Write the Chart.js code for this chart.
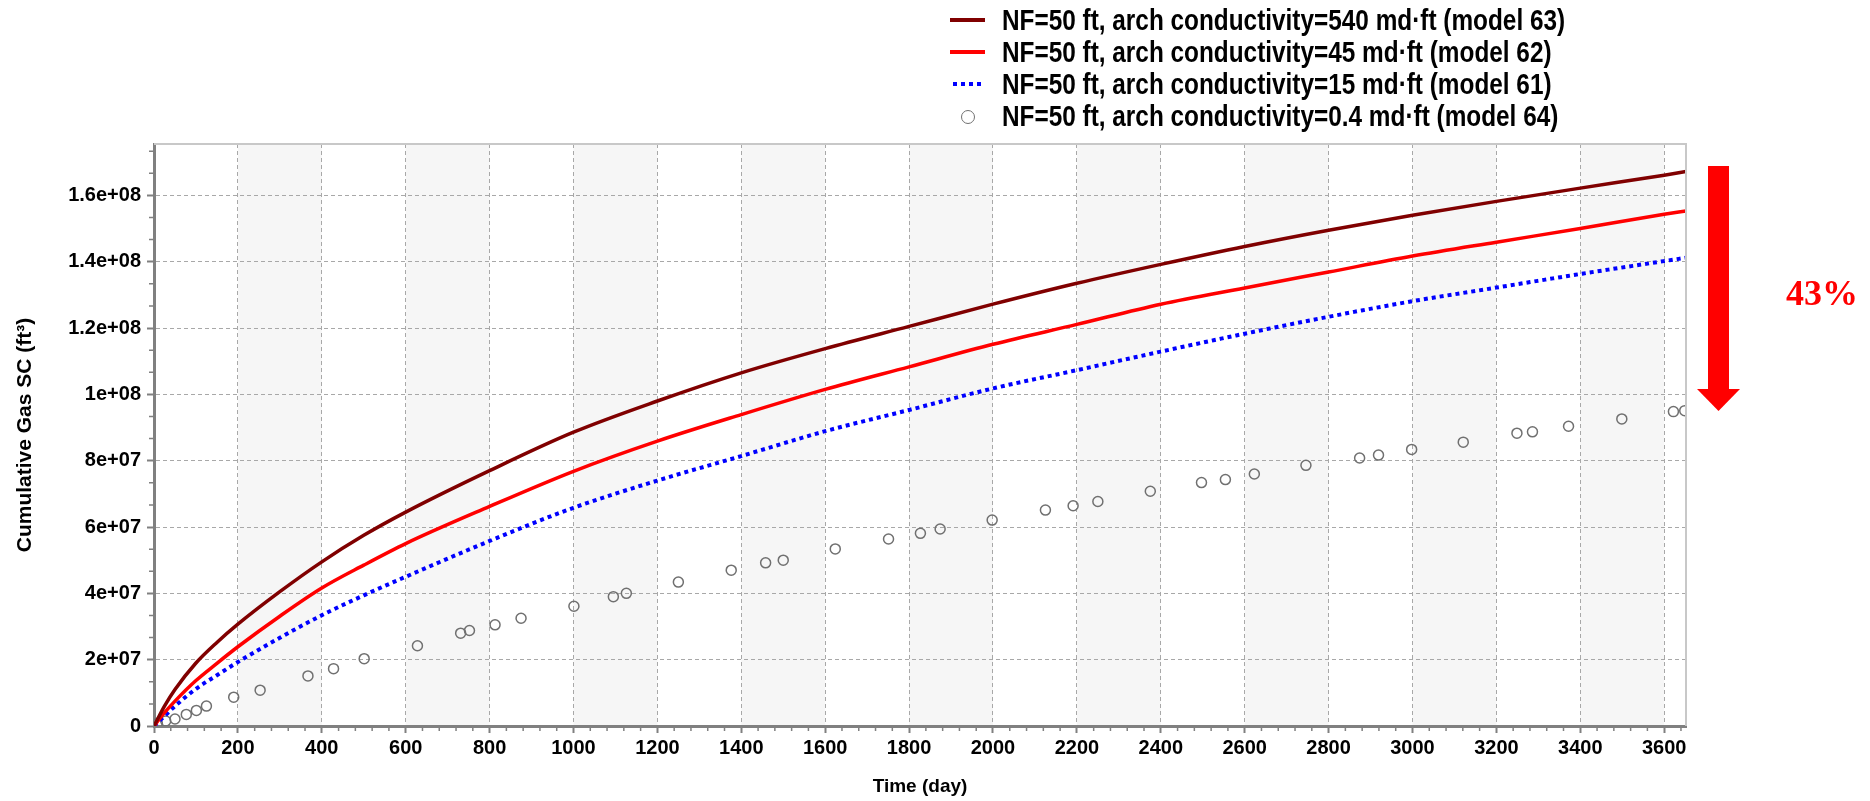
<!DOCTYPE html>
<html>
<head>
<meta charset="utf-8">
<script src="https://cdn.jsdelivr.net/npm/chart.js@4.4.1/dist/chart.umd.min.js"></script>
<style>
  html, body { margin: 0; padding: 0; background: #fff; }
  #wrap { position: relative; width: 1870px; height: 801px; }
  #legend { position: absolute; left: 950px; top: 4px; font: bold 29px "Liberation Sans", Arial, sans-serif; color: #000; }
  .row { display: flex; align-items: center; height: 32.2px; white-space: nowrap; }
  .sw { width: 35px; height: 16px; position: relative; margin-right: 17px; flex: none; }
  .sw i { position: absolute; display: block; }
  .lt { display: inline-block; transform: scaleX(0.84); transform-origin: 0 50%; }
  #pct { position: absolute; left: 1786px; top: 272px; font: bold 36px "Liberation Serif", "Times New Roman", serif; color: #ff0000; }
</style>
</head>
<body>
<div id="wrap">
  <canvas id="chart" width="1870" height="801"></canvas>
  <div id="legend"></div>
  <div id="pct">43%</div>
</div>
<script>
// sample days for the simulated curves
const days = [0, 25, 50, 100, 150, 200, 300, 400, 500, 600, 800, 1000, 1200, 1400, 1600,
  1800, 2000, 2200, 2400, 2600, 2800, 3000, 3200, 3400, 3600, 3652];
const model63 = [0, 0.6e7, 1.1e7, 1.9e7, 2.52e7, 3.07e7, 4.05e7, 4.95e7, 5.75e7, 6.45e7, 7.7e7,
  8.86e7, 9.8e7, 1.065e8, 1.138e8, 1.205e8, 1.272e8, 1.335e8, 1.392e8, 1.446e8, 1.495e8,
  1.54e8, 1.582e8, 1.622e8, 1.661e8, 1.672e8];
const model62 = [0, 0.4e7, 0.75e7, 1.37e7, 1.89e7, 2.39e7, 3.31e7, 4.16e7, 4.85e7, 5.5e7, 6.62e7,
  7.68e7, 8.59e7, 9.39e7, 1.015e8, 1.083e8, 1.151e8, 1.211e8, 1.272e8, 1.321e8, 1.369e8,
  1.417e8, 1.459e8, 1.5e8, 1.543e8, 1.553e8];
const model61 = [0, 0.3e7, 0.6e7, 1.12e7, 1.53e7, 1.93e7, 2.66e7, 3.34e7, 3.94e7, 4.5e7, 5.58e7,
  6.58e7, 7.4e7, 8.14e7, 8.89e7, 9.53e7, 1.018e8, 1.073e8, 1.129e8, 1.183e8, 1.234e8,
  1.281e8, 1.322e8, 1.363e8, 1.402e8, 1.412e8];

// model 64 is shown as markers at its report times
const days64 = [8, 28, 50, 77, 101, 125, 190, 253, 367, 428, 501, 628, 731, 752, 813, 875, 1001,
  1095, 1126, 1250, 1376, 1458, 1500, 1624, 1751, 1827, 1874, 1998, 2125, 2191, 2250, 2375,
  2497, 2554, 2623, 2746, 2874, 2919, 2998, 3121, 3249, 3286, 3372, 3499, 3622, 3649];
const model64 = [0.8e6, 1.5e6, 2.1e6, 3.5e6, 4.7e6, 6.0e6, 8.7e6, 1.08e7, 1.51e7, 1.73e7, 2.03e7,
  2.42e7, 2.8e7, 2.88e7, 3.05e7, 3.25e7, 3.61e7, 3.9e7, 4.0e7, 4.34e7, 4.7e7, 4.92e7, 5.0e7,
  5.34e7, 5.64e7, 5.81e7, 5.94e7, 6.21e7, 6.51e7, 6.64e7, 6.77e7, 7.08e7, 7.34e7, 7.43e7,
  7.6e7, 7.86e7, 8.08e7, 8.17e7, 8.34e7, 8.56e7, 8.83e7, 8.87e7, 9.04e7, 9.26e7, 9.48e7, 9.51e7];

const xTicks = [0, 200, 400, 600, 800, 1000, 1200, 1400, 1600, 1800, 2000, 2200, 2400, 2600,
  2800, 3000, 3200, 3400, 3600];
const yTicks = [0, 2e7, 4e7, 6e7, 8e7, 1e8, 1.2e8, 1.4e8, 1.6e8];
const yTickLabels = ['0', '2e+07', '4e+07', '6e+07', '8e+07', '1e+08', '1.2e+08', '1.4e+08', '1.6e+08'];

const xMax = 3652;
const yMax = 1.755e8;

const pts = (xs, ys) => xs.map((x, i) => ({ x: x, y: ys[i] }));
const tickFont = { family: '"Liberation Sans", Arial, sans-serif', size: 20, weight: 'bold' };
const xTitleFont = { family: '"Liberation Sans", Arial, sans-serif', size: 19, weight: 'bold' };
const yTitleFont = { family: '"Liberation Sans", Arial, sans-serif', size: 21, weight: 'bold' };

// shaded bands every other 200-day column
const bands = {
  id: 'bands',
  beforeDraw(chart) {
    const { ctx, chartArea: a, scales: { x } } = chart;
    ctx.save();
    ctx.fillStyle = '#f6f6f6';
    for (let d = 200; d < x.max; d += 400) {
      const l = x.getPixelForValue(d);
      const r = x.getPixelForValue(Math.min(d + 200, x.max));
      ctx.fillRect(l, a.top, r - l, a.bottom - a.top);
    }
    ctx.restore();
  }
};

// minor ticks, frame and the red arrow
const extras = {
  id: 'extras',
  afterDraw(chart) {
    const { ctx, chartArea: a, scales: { x, y } } = chart;
    ctx.save();
    ctx.strokeStyle = '#c8c8c8';
    ctx.lineWidth = 2;
    ctx.beginPath();
    ctx.moveTo(a.left, a.top);
    ctx.lineTo(a.right, a.top);
    ctx.lineTo(a.right, a.bottom);
    ctx.stroke();

    ctx.strokeStyle = '#808080';
    ctx.lineWidth = 1.5;
    ctx.beginPath();
    for (let k = 1; k * 40 < x.max; k++) {
      if (k % 5 === 0) continue;
      const px = x.getPixelForValue(k * 40);
      ctx.moveTo(px, a.bottom + 1);
      ctx.lineTo(px, a.bottom + 5);
    }
    for (let k = 1; k * 2e7 / 3 < y.max; k++) {
      if (k % 3 === 0) continue;
      const py = y.getPixelForValue(k * 2e7 / 3);
      ctx.moveTo(a.left - 5, py);
      ctx.lineTo(a.left - 1, py);
    }
    ctx.stroke();

    ctx.fillStyle = '#ff0000';
    ctx.fillRect(1708, 166, 21, 224);
    ctx.beginPath();
    ctx.moveTo(1697, 389);
    ctx.lineTo(1740, 389);
    ctx.lineTo(1718.5, 411);
    ctx.closePath();
    ctx.fill();
    ctx.restore();
  }
};

const chart = new Chart(document.getElementById('chart'), {
  type: 'scatter',
  data: {
    datasets: [
      {
        label: 'NF=50 ft, arch conductivity=540 md·ft (model 63)',
        data: pts(days, model63),
        showLine: true,
        borderColor: '#800000',
        backgroundColor: '#800000',
        borderWidth: 3.5,
        pointRadius: 0,
        cubicInterpolationMode: 'monotone'
      },
      {
        label: 'NF=50 ft, arch conductivity=45 md·ft (model 62)',
        data: pts(days, model62),
        showLine: true,
        borderColor: '#ff0000',
        backgroundColor: '#ff0000',
        borderWidth: 3.5,
        pointRadius: 0,
        cubicInterpolationMode: 'monotone'
      },
      {
        label: 'NF=50 ft, arch conductivity=15 md·ft (model 61)',
        data: pts(days, model61),
        showLine: true,
        borderColor: '#0000ff',
        backgroundColor: '#0000ff',
        borderWidth: 4,
        borderDash: [4, 4],
        pointRadius: 0,
        cubicInterpolationMode: 'monotone'
      },
      {
        label: 'NF=50 ft, arch conductivity=0.4 md·ft (model 64)',
        data: pts(days64, model64),
        showLine: false,
        borderColor: '#707070',
        backgroundColor: 'rgba(255,255,255,0)',
        pointRadius: 5,
        pointBorderWidth: 1.5
      }
    ]
  },
  options: {
    responsive: false,
    animation: false,
    layout: { padding: { left: 0, top: 144, right: 184, bottom: 0 } },
    plugins: {
      legend: { display: false },
      tooltip: { enabled: false }
    },
    scales: {
      x: {
        type: 'linear',
        min: 0,
        max: xMax,
        afterBuildTicks: s => { s.ticks = xTicks.map(v => ({ value: v })); },
        afterFit: s => { s.height = 75; },
        ticks: { font: tickFont, color: '#000', padding: 3, maxRotation: 0, autoSkip: false, callback: v => String(v) },
        grid: { color: '#a8a8a8', lineWidth: 1, tickLength: 7, tickColor: '#808080', tickWidth: 2 },
        border: { display: true, color: '#808080', width: 3, dash: [4, 3] },
        title: { display: true, text: 'Time (day)', font: xTitleFont, color: '#000', padding: { top: 0, bottom: 3 } }
      },
      y: {
        min: 0,
        max: yMax,
        afterBuildTicks: s => { s.ticks = yTicks.map(v => ({ value: v })); },
        afterFit: s => { s.width = 154; },
        ticks: {
          font: tickFont, color: '#000', padding: 6, autoSkip: false,
          callback: v => yTickLabels[yTicks.indexOf(v)]
        },
        grid: { color: '#a8a8a8', lineWidth: 1, tickLength: 7, tickColor: '#808080', tickWidth: 2 },
        border: { display: true, color: '#808080', width: 3, dash: [4, 3] },
        title: { display: true, text: 'Cumulative Gas SC (ft³)', font: yTitleFont, color: '#000', padding: { top: 13, bottom: 0 } }
      }
    }
  },
  plugins: [bands, extras]
});

// legend in a single column above the plot, built from the datasets
const legendEl = document.getElementById('legend');
chart.data.datasets.forEach(ds => {
  const row = document.createElement('div');
  row.className = 'row';
  const sw = document.createElement('span');
  sw.className = 'sw';
  const mark = document.createElement('i');
  if (ds.showLine === false) {
    mark.style.cssText = 'left:11px;top:1px;width:12px;height:12px;border-radius:50%;border:1.5px solid ' + ds.borderColor + ';';
  } else if (ds.borderDash) {
    mark.style.cssText = 'left:3px;top:6px;width:30px;height:4px;background:repeating-linear-gradient(to right,' +
      ds.borderColor + ' 0 4px, transparent 4px 8px);';
  } else {
    mark.style.cssText = 'left:0;top:6px;width:35px;height:4px;background:' + ds.borderColor + ';';
  }
  sw.appendChild(mark);
  const txt = document.createElement('span');
  txt.className = 'lt';
  txt.textContent = ds.label;
  row.appendChild(sw);
  row.appendChild(txt);
  legendEl.appendChild(row);
});
</script>
</body>
</html>
